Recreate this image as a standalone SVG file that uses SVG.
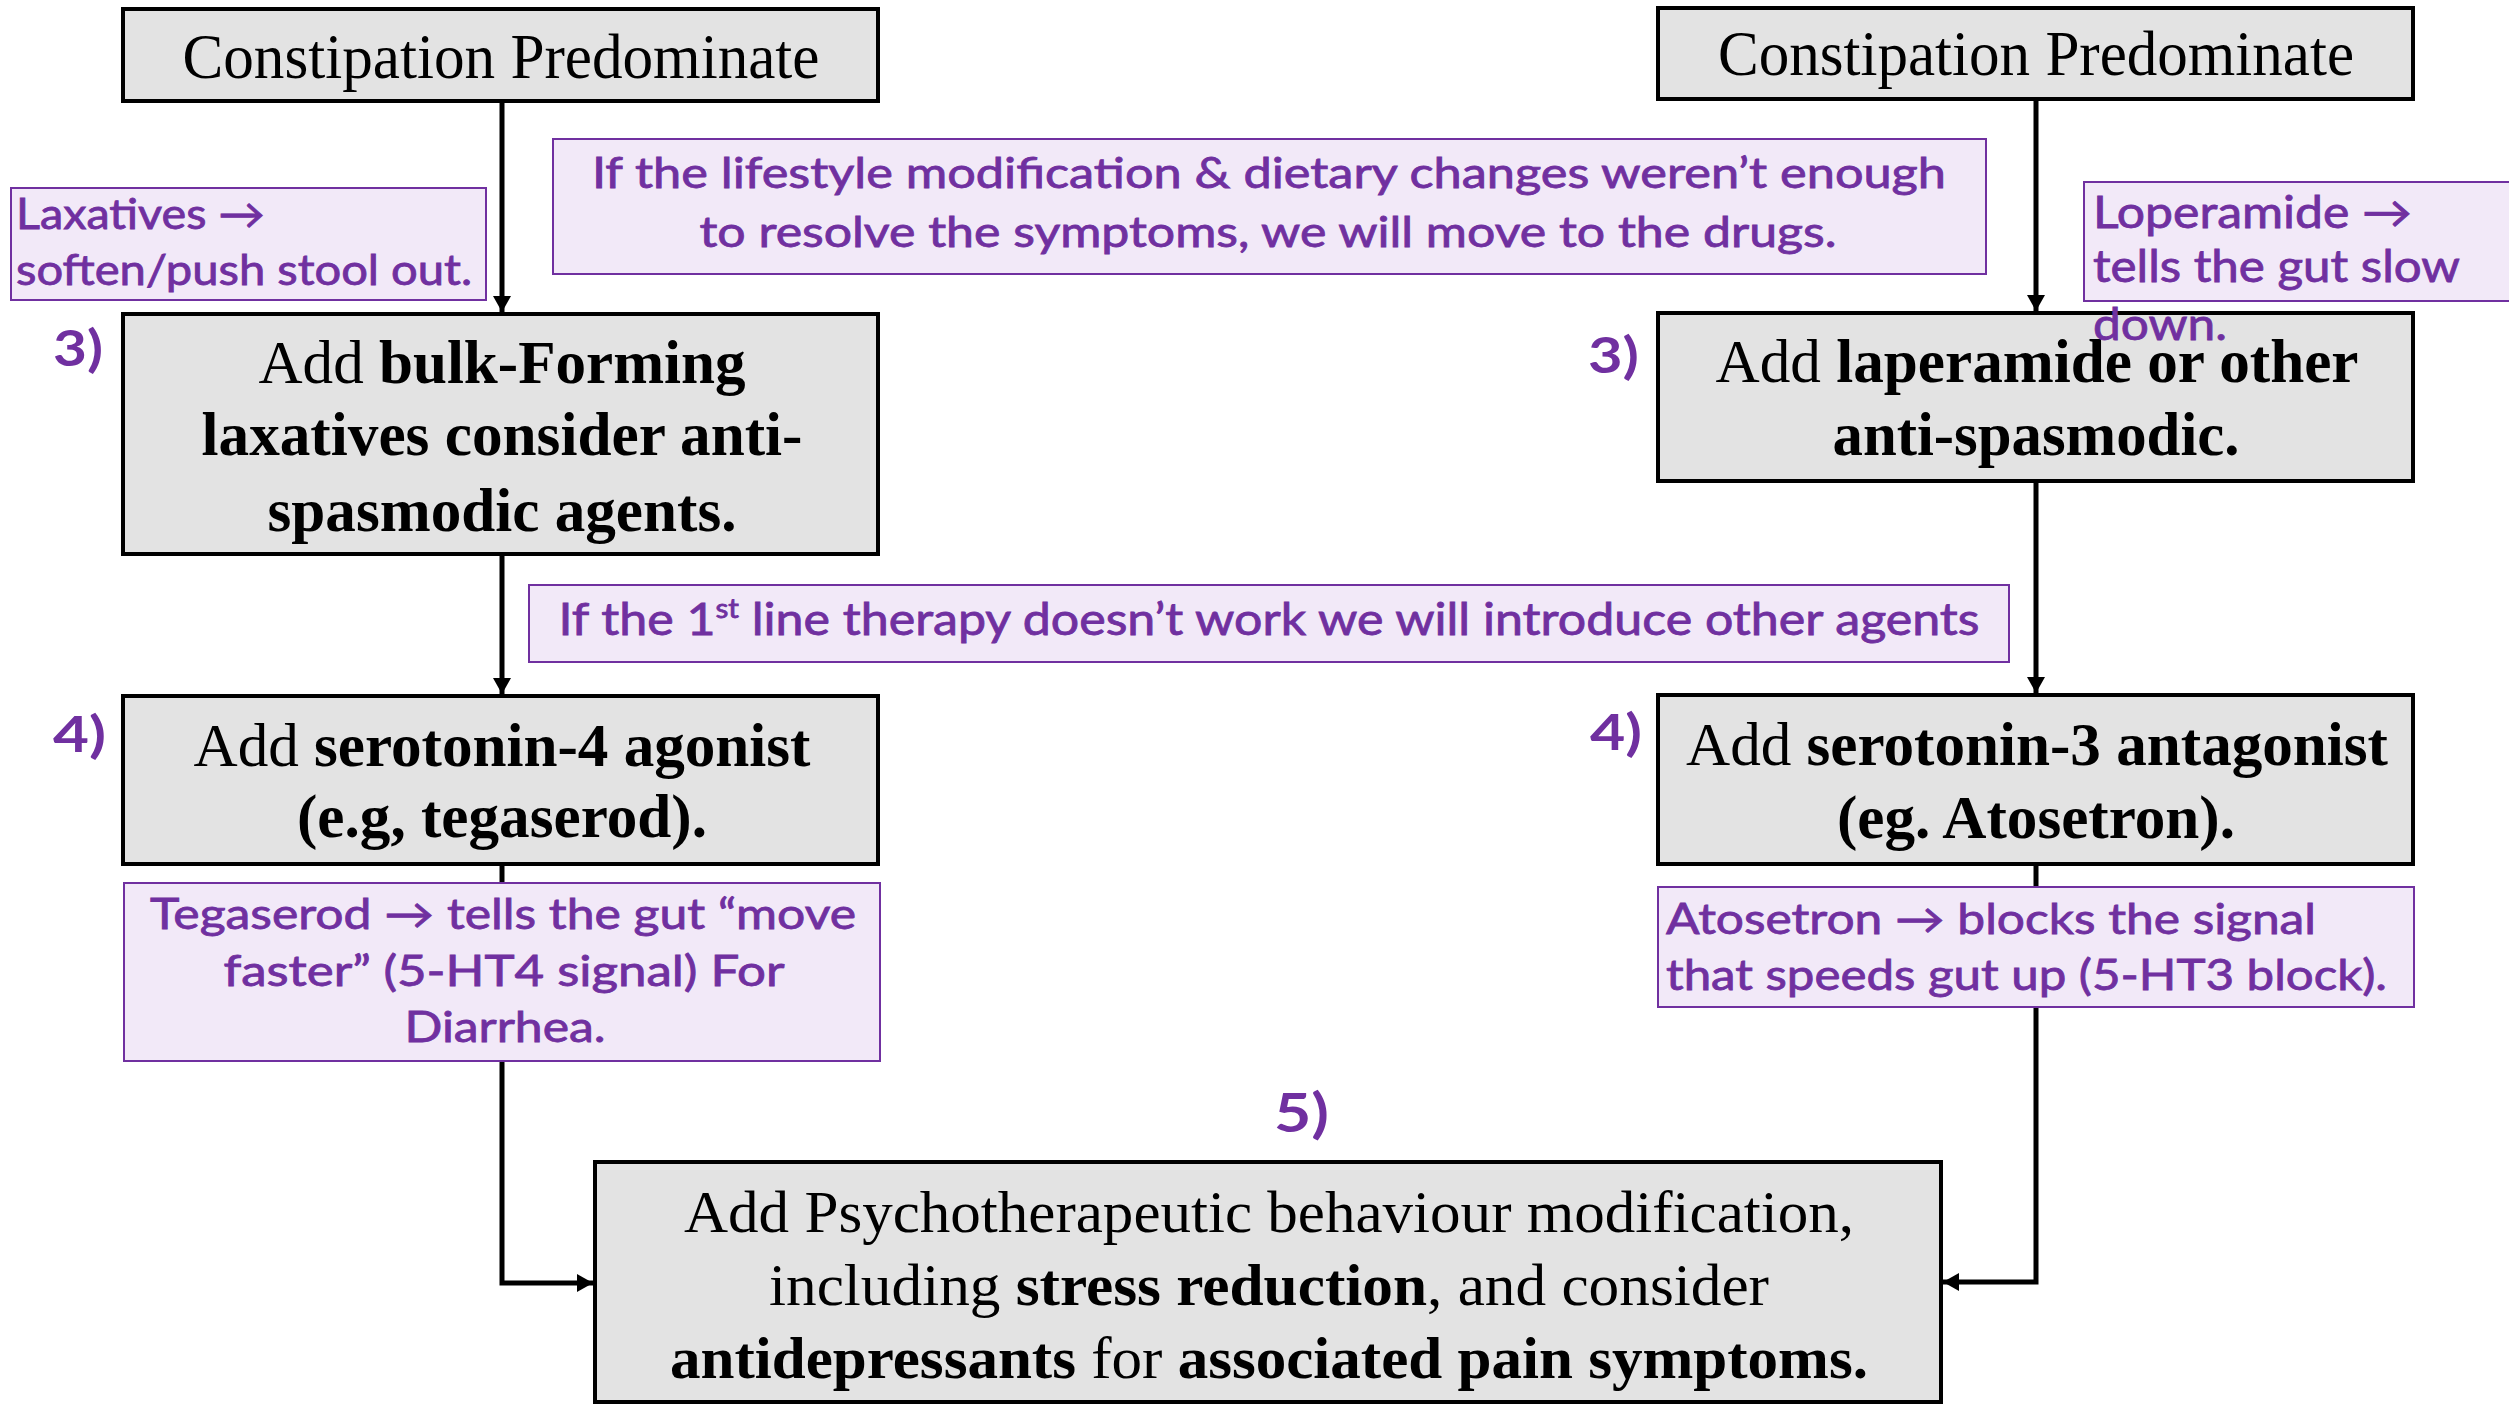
<svg xmlns="http://www.w3.org/2000/svg" width="2509" height="1404" viewBox="0 0 2509 1404">
<style>
.box{fill:#E3E3E3;stroke:#000;stroke-width:4}
.note{fill:#F2E9F8;stroke:#7030A0;stroke-width:2}
.bt{font-family:"Liberation Serif","Times New Roman",serif;font-size:62px;fill:#000;text-anchor:middle}
.b{font-weight:bold}
.pt{font-family:Lato,"Noto Sans",sans-serif;font-size:42px;fill:#7030A0;stroke:#7030A0;stroke-width:0.8px}
.mid{text-anchor:middle}
.num{font-family:Lato,"Noto Sans",sans-serif;font-size:50px;font-weight:bold;fill:#7030A0}
.con{fill:none;stroke:#000;stroke-width:5}
</style>
<defs>
<marker id="ah" markerUnits="userSpaceOnUse" markerWidth="16" markerHeight="18" refX="16" refY="9" orient="auto">
<path d="M0,0 L16,9 L0,18 z" fill="#000"/>
</marker>
</defs>
<rect width="2509" height="1404" fill="#fff"/>

<g id="n-top-left">
<rect class="box" x="123" y="9" width="755" height="92"/>
<text class="bt" x="501" y="78" style="font-size:64px" textLength="637" lengthAdjust="spacingAndGlyphs">Constipation Predominate</text>
</g>
<g id="n-top-right">
<rect class="box" x="1658" y="8" width="755" height="91"/>
<text class="bt" x="2036" y="75" style="font-size:64px" textLength="636" lengthAdjust="spacingAndGlyphs">Constipation Predominate</text>
</g>
<g id="n-step3-left">
<rect class="box" x="123" y="314" width="755" height="240"/>
<text class="bt" x="502" y="383" textLength="487" lengthAdjust="spacingAndGlyphs">Add <tspan class="b">bulk-Forming</tspan></text>
<text class="bt b" x="502" y="455" textLength="601" lengthAdjust="spacingAndGlyphs">laxatives consider anti-</text>
<text class="bt b" x="502" y="531" textLength="469" lengthAdjust="spacingAndGlyphs">spasmodic agents.</text>
</g>
<g id="n-step3-right">
<rect class="box" x="1658" y="313" width="755" height="168"/>
<text class="bt" x="2037" y="382" textLength="643" lengthAdjust="spacingAndGlyphs">Add <tspan class="b">laperamide or other</tspan></text>
<text class="bt b" x="2036" y="455" textLength="407" lengthAdjust="spacingAndGlyphs">anti-spasmodic.</text>
</g>
<g id="n-step4-left">
<rect class="box" x="123" y="696" width="755" height="168"/>
<text class="bt" x="502" y="766" textLength="617" lengthAdjust="spacingAndGlyphs">Add <tspan class="b">serotonin-4 agonist</tspan></text>
<text class="bt b" x="502" y="837" textLength="410" lengthAdjust="spacingAndGlyphs">(e.g, tegaserod).</text>
</g>
<g id="n-step4-right">
<rect class="box" x="1658" y="695" width="755" height="169"/>
<text class="bt" x="2037" y="765" textLength="702" lengthAdjust="spacingAndGlyphs">Add <tspan class="b">serotonin-3 antagonist</tspan></text>
<text class="bt b" x="2036" y="838" textLength="398" lengthAdjust="spacingAndGlyphs">(eg. Atosetron).</text>
</g>
<g id="n-step5">
<rect class="box" x="595" y="1162" width="1346" height="240"/>
<text class="bt" x="1269" y="1232" style="font-size:60px" textLength="1170" lengthAdjust="spacingAndGlyphs">Add Psychotherapeutic behaviour modification,</text>
<text class="bt" x="1269" y="1305" style="font-size:60px" textLength="1000" lengthAdjust="spacingAndGlyphs">including <tspan class="b">stress reduction</tspan>, and consider</text>
<text class="bt" x="1269" y="1378" style="font-size:60px" textLength="1198" lengthAdjust="spacingAndGlyphs"><tspan class="b">antidepressants</tspan> for <tspan class="b">associated pain symptoms.</tspan></text>
</g>

<g id="note-laxatives">
<rect class="note" x="11" y="188" width="475" height="112"/>
<text class="pt" x="16" y="229" textLength="249" lengthAdjust="spacingAndGlyphs">Laxatives →</text>
<text class="pt" x="16" y="285" textLength="456" lengthAdjust="spacingAndGlyphs">soften/push stool out.</text>
</g>
<g id="note-lifestyle">
<rect class="note" x="553" y="139" width="1433" height="135"/>
<text class="pt mid" x="1269" y="188" textLength="1354" lengthAdjust="spacingAndGlyphs">If the lifestyle modification &amp; dietary changes weren’t enough</text>
<text class="pt mid" x="1268" y="247" textLength="1137" lengthAdjust="spacingAndGlyphs">to resolve the symptoms, we will move to the drugs.</text>
</g>
<g id="note-loperamide">
<rect class="note" x="2084" y="182" width="440" height="119"/>
<text class="pt" x="2093" y="228" style="font-size:44px" textLength="319" lengthAdjust="spacingAndGlyphs">Loperamide →</text>
<text class="pt" x="2093" y="282" style="font-size:44px" textLength="367" lengthAdjust="spacingAndGlyphs">tells the gut slow</text>
<text class="pt" x="2093" y="340" style="font-size:44px" textLength="134" lengthAdjust="spacingAndGlyphs">down.</text>
</g>
<g id="note-firstline">
<rect class="note" x="529" y="585" width="1480" height="77"/>
<text class="pt mid" x="1269" y="635" style="font-size:44px" textLength="1421" lengthAdjust="spacingAndGlyphs">If the 1<tspan dy="-17" style="font-size:26px">st</tspan><tspan dy="17"> line therapy doesn’t work we will introduce other agents</tspan></text>
</g>
<g id="note-tegaserod">
<rect class="note" x="124" y="883" width="756" height="178"/>
<text class="pt mid" x="503" y="929" textLength="706" lengthAdjust="spacingAndGlyphs">Tegaserod → tells the gut “move</text>
<text class="pt mid" x="504" y="986" textLength="561" lengthAdjust="spacingAndGlyphs">faster” (5-HT4 signal) For</text>
<text class="pt mid" x="505" y="1042" textLength="201" lengthAdjust="spacingAndGlyphs">Diarrhea.</text>
</g>
<g id="note-atosetron">
<rect class="note" x="1658" y="887" width="756" height="120"/>
<text class="pt" x="1666" y="934" textLength="650" lengthAdjust="spacingAndGlyphs">Atosetron → blocks the signal</text>
<text class="pt" x="1666" y="990" textLength="721" lengthAdjust="spacingAndGlyphs">that speeds gut up (5-HT3 block).</text>
</g>

<g id="labels">
<text class="num" x="53" y="366" textLength="50" lengthAdjust="spacingAndGlyphs">3)</text>
<text class="num" x="1588" y="373" textLength="51" lengthAdjust="spacingAndGlyphs">3)</text>
<text class="num" x="53" y="752" textLength="53" lengthAdjust="spacingAndGlyphs">4)</text>
<text class="num" x="1590" y="750" textLength="52" lengthAdjust="spacingAndGlyphs">4)</text>
<text class="num" x="1274" y="1132" style="font-size:54px" textLength="55" lengthAdjust="spacingAndGlyphs">5)</text>
</g>

<g id="connectors">
<path class="con" d="M502,103 V312" marker-end="url(#ah)"/>
<path class="con" d="M2036,101 V311" marker-end="url(#ah)"/>
<path class="con" d="M502,556 V694" marker-end="url(#ah)"/>
<path class="con" d="M2036,483 V693" marker-end="url(#ah)"/>
<path class="con" d="M502,866 V882"/>
<path class="con" d="M2036,866 V886"/>
<path class="con" d="M502,1062 V1283 H593" marker-end="url(#ah)"/>
<path class="con" d="M2036,1008 V1282 H1943" marker-end="url(#ah)"/>
</g>
</svg>
